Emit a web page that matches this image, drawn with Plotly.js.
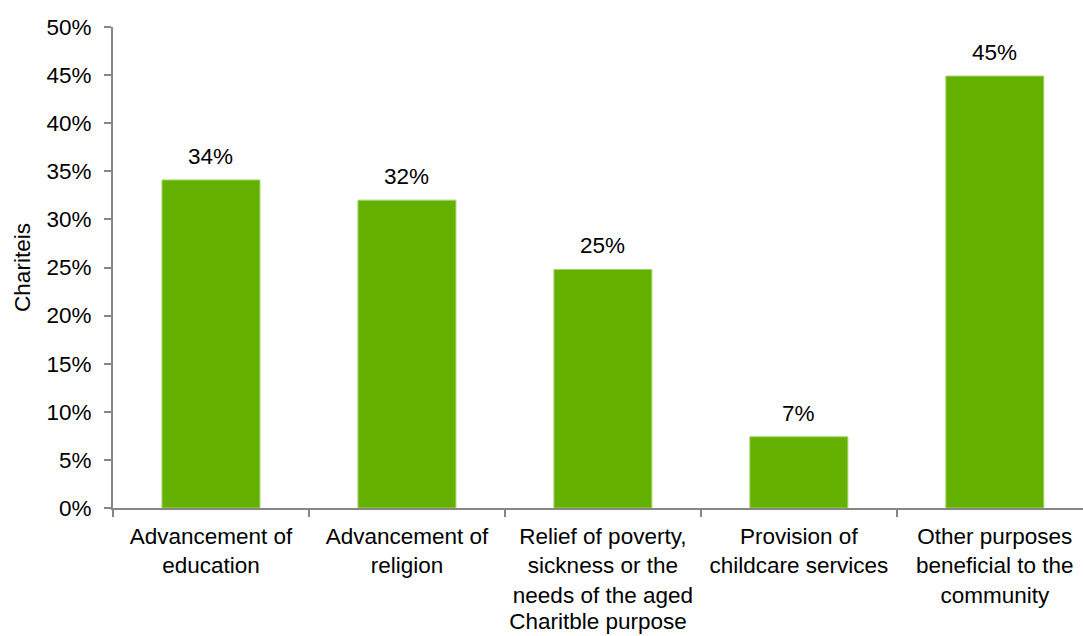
<!DOCTYPE html>
<html>
<head>
<meta charset="utf-8">
<script src="https://cdn.plot.ly/plotly-3.0.1.min.js"></script>
<style>html,body{margin:0;padding:0;background:#fff}#chart{width:1083px;height:636px}</style>
</head>
<body>
<div id="chart"></div>
<script>
const categories = [
  "Advancement of<br>education",
  "Advancement of<br>religion",
  "Relief of poverty,<br>sickness or the<br>needs of the aged",
  "Provision of<br>childcare services",
  "Other purposes<br>beneficial to the<br>community"
];
const values = [34.1, 32.0, 24.8, 7.4, 44.9];
const labels = ["34%", "32%", "25%", "7%", "45%"];
const yTickVals = [0, 5, 10, 15, 20, 25, 30, 35, 40, 45, 50];

const FONT = "Liberation Sans, Arial, sans-serif";
const FS = 22.5;
const trace = {
  type: "bar",
  x: categories,
  y: values,
  width: 0.5,
  marker: {color: "#63b000", line: {color: "#a6d46b", width: 1}},
  hoverinfo: "none"
};
const annotations = categories.map((c, i) => ({
  x: c, y: values[i], text: labels[i], showarrow: false,
  yanchor: "bottom", yshift: 9,
  font: {family: FONT, size: FS, color: "#000"}
}));
const layout = {
  width: 1083, height: 636,
  margin: {l: 113, r: 0, t: 27, b: 128},
  paper_bgcolor: "#fff", plot_bgcolor: "#fff",
  font: {family: FONT, size: FS, color: "#000"},
  showlegend: false,
  xaxis: {
    type: "category",
    range: [-0.5, 4.45],
    showline: true, linecolor: "#868686", linewidth: 2,
    ticks: "outside", tickson: "boundaries", ticklen: 7, tickcolor: "#868686", tickwidth: 2,
    ticklabelstandoff: 7,
    showgrid: false, zeroline: false,
    tickfont: {family: FONT, size: FS, color: "#000"},
    title: {text: "Charitble purpose", font: {family: FONT, size: FS, color: "#000"}, standoff: 7}
  },
  yaxis: {
    range: [0, 50],
    tickvals: yTickVals,
    ticktext: yTickVals.map(v => v + "%"),
    showline: true, linecolor: "#868686", linewidth: 2,
    ticks: "outside", ticklen: 7, tickcolor: "#868686", tickwidth: 2,
    ticklabelstandoff: 8,
    showgrid: false, zeroline: false,
    tickfont: {family: FONT, size: FS, color: "#000"},
    title: {text: "Chariteis", font: {family: FONT, size: FS, color: "#000"}, standoff: 10}
  },
  annotations: annotations
};
Plotly.newPlot("chart", [trace], layout, {displayModeBar: false, staticPlot: true});
</script>
</body>
</html>
